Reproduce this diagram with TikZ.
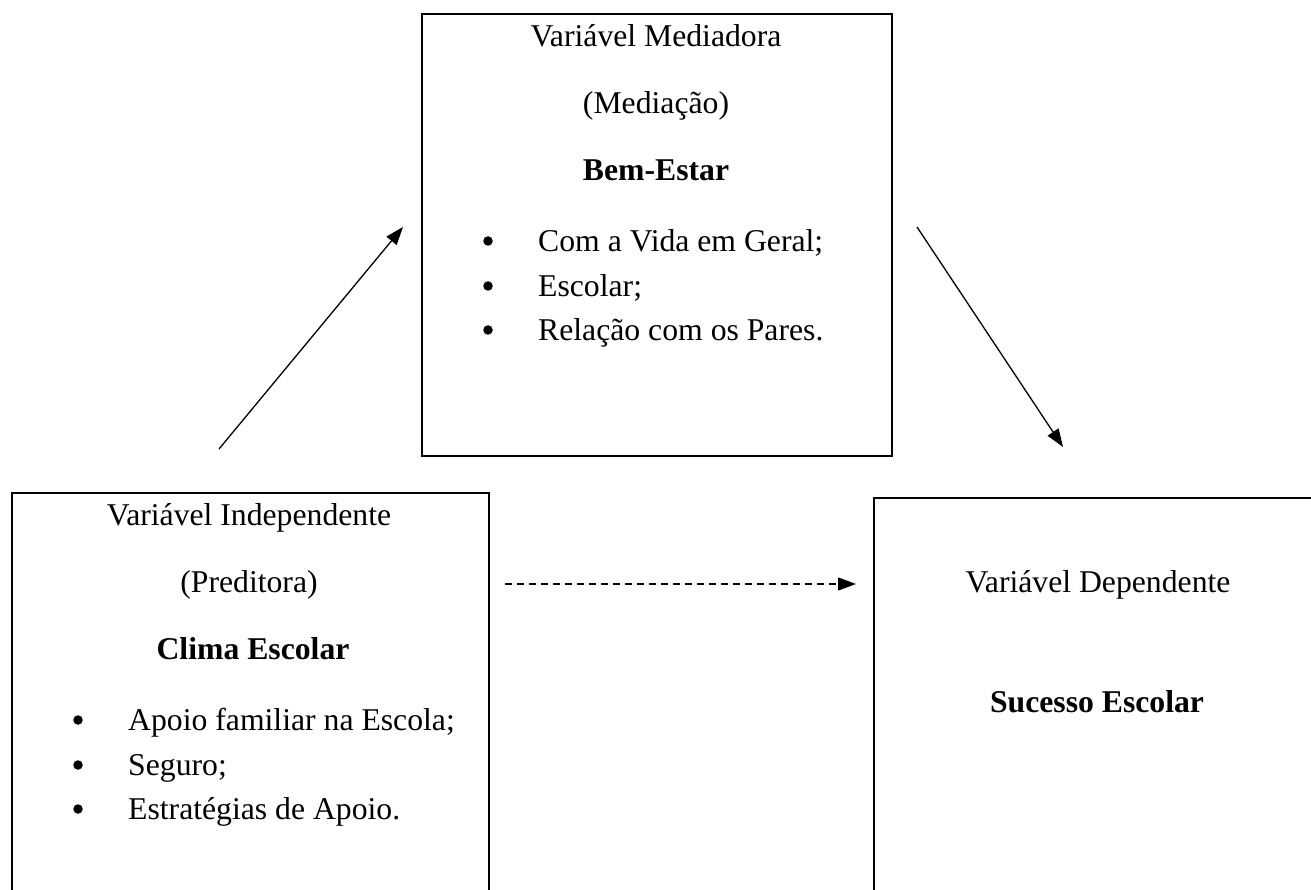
\documentclass[tikz,border=0pt]{standalone}
\usepackage{fontspec}
\setmainfont{Liberation Serif}
\usetikzlibrary{arrows.meta}
\begin{document}
\begin{tikzpicture}[x=1pt,y=-1pt,
  box/.style={draw,line width=2pt,inner sep=0pt,anchor=north west},
  txt/.style={inner sep=0pt,anchor=mid,font=\fontsize{31.7}{36}\selectfont},
  head/.style={txt,font=\fontsize{31.7}{36}\selectfont\bfseries},
  item/.style={txt,anchor=mid west},
  bul/.style={circle,fill,inner sep=0pt,minimum size=9.5pt},
  link/.style={line width=1.3pt,-{Triangle[length=18pt,width=13pt]}},
  dlink/.style={link,dash pattern=on 7pt off 5pt},
]
\useasboundingbox (0,0) rectangle (1311,890);

% the three variable boxes
\node[box,minimum width=470pt,minimum height=442pt] (med) at (421,13) {};
\node[box,minimum width=477pt,minimum height=440pt] (ind) at (11,492) {};
\node[box,minimum width=450pt,minimum height=440pt] (dep) at (873,497) {};

% mediating variable
\node[txt] (m1) at (656,44) {Variável Mediadora};
\node[txt] (m2) at (656,111) {(Mediação)};
\node[head] (m3) at (656,178) {Bem-Estar};
\node[bul] (mb1) at (488,241) {};
\node[item] (mi1) at (538,249) {Com a Vida em Geral;};
\node[bul] (mb2) at (488,286) {};
\node[item] (mi2) at (538,294) {Escolar;};
\node[bul] (mb3) at (488,330) {};
\node[item] (mi3) at (538,338) {Relação com os Pares.};

% independent variable
\node[txt] (i1) at (249,523) {Variável Independente};
\node[txt] (i2) at (249,590) {(Preditora)};
\node[head] (i3) at (253,657) {Clima Escolar};
\node[bul] (ib1) at (78,720) {};
\node[item] (ii1) at (128,728) {Apoio familiar na Escola;};
\node[bul] (ib2) at (78,765) {};
\node[item] (ii2) at (128,773) {Seguro;};
\node[bul] (ib3) at (78,809) {};
\node[item] (ii3) at (128,817) {Estratégias de Apoio.};

% dependent variable
\node[txt] (d1) at (1098,590) {Variável Dependente};
\node[head] (d2) at (1097,710) {Sucesso Escolar};

% paths between the variables
\coordinate (p1) at (219,449);
\coordinate (p2) at (403,227);
\coordinate (q1) at (917,227);
\coordinate (q2) at (1063,447);
\coordinate (r1) at (505,584);
\coordinate (r2) at (856,584);
\draw[link] (p1) -- (p2);
\draw[link] (q1) -- (q2);
\draw[dlink] (r1) -- (r2);
\end{tikzpicture}
\end{document}
